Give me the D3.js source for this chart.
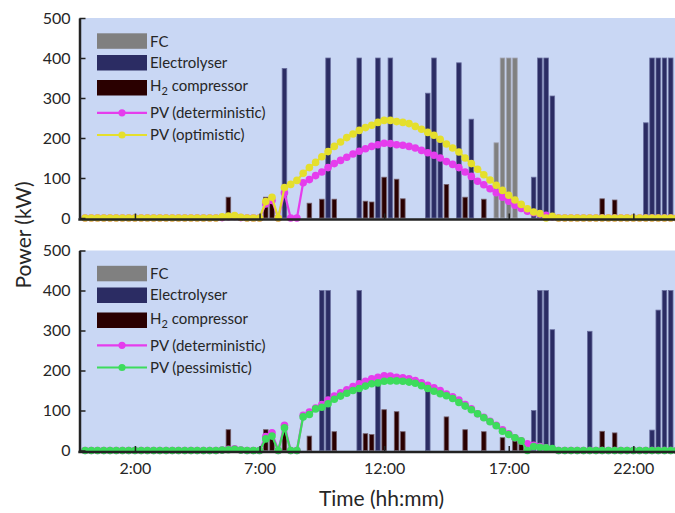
<!DOCTYPE html>
<html>
<head>
<meta charset="utf-8">
<script src="https://cdn.jsdelivr.net/npm/d3@7/dist/d3.min.js"></script>
<style>
  html, body { margin: 0; padding: 0; background: #fff; }
  svg { display: block; font-family: Lato, "Open Sans", sans-serif; }
</style>
</head>
<body>
<svg id="chart" width="675" height="513"></svg>
<script>
// PV output, one value per 15-minute slot (00:00 ... 23:45), kW
const pvDeterministic = [
  0,0,0,0,0,0,0,0,0,0,0,0,0,0,0,0,0,0,0,0,0,0,
  1,3,4,1,0,0,0,
  35,44,0,63,0,0,
  88,96,106,115,126,136,144,152,160,167,173,179,183,187,186,183,182,179,175,169,
  163,157,150,141,134,126,115,104,92,83,73,63,52,42,32,24,17,13,10,7,3,
  0,0,0,0,0,0,0,0,0,0,0,0,0,0,0,0,0,0,0,0
];
const pvOptimistic = [
  0,0,0,0,0,0,0,0,0,0,0,0,0,0,0,0,0,0,0,0,0,0,
  3,5,6,2,0,0,0,
  41,52,0,76,84,94,
  112,126,139,153,166,179,190,201,210,219,226,232,239,244,244,241,239,236,229,222,
  214,207,197,185,175,165,150,136,122,108,95,82,69,57,45,34,23,15,11,0,4,
  0,0,0,0,0,0,0,0,0,0,0,0,0,0,0,0,0,0,0,0
];
const pvPessimistic = [
  0,0,0,0,0,0,0,0,0,0,0,0,0,0,0,0,0,0,0,0,0,0,
  1,2,3,1,0,0,0,
  29,36,0,57,0,0,
  84,90,104,108,117,128,136,143,150,155,161,167,169,173,174,174,173,171,168,162,
  155,148,142,137,130,120,111,102,92,82,72,62,48,40,32,24,0,10,8,7,5,
  0,0,0,0,0,0,0,0,0,0,0,0,0,0,0,0,0,0,0,0
];

// Optimistic scenario: unit dispatch (start of slot, kW)
const optFcTimes = ["16:30","16:45","17:00","17:15"];
const optFcValues = [188, 400, 400, 400];
const optElectrolyserTimes = ["08:00","09:45","11:00","11:45","12:15","13:45","14:00","14:15","15:00","15:30",
  "18:00","18:15","18:30","18:45","22:30","22:45","23:00","23:15","23:30"];
const optElectrolyserValues = [374, 400, 400, 400, 400, 312, 400, 190, 388, 247,
  102, 400, 400, 305, 238, 400, 400, 400, 400];
const optCompressorTimes = ["05:45","07:15","07:30","09:00","09:30","10:00","11:15","11:30","12:00","12:30",
  "12:45","14:30","15:15","16:00","20:45","21:15"];
const optCompressorValues = [52, 52, 37, 37, 47, 47, 42, 40, 102, 97,
  48, 84, 52, 47, 48, 45];

// Pessimistic scenario: unit dispatch (start of slot, kW)
const pesFcTimes = [];
const pesFcValues = [];
const pesElectrolyserTimes = ["09:30","09:45","11:00","11:45","13:45","18:00","18:15","18:30","18:45","20:15",
  "22:45","23:00","23:15","23:30"];
const pesElectrolyserValues = [400, 400, 400, 165, 155, 100, 400, 400, 302, 298,
  51, 351, 400, 400];
const pesCompressorTimes = ["05:45","07:15","07:30","08:00","09:00","10:00","11:15","11:30","12:00","12:30",
  "12:45","14:30","15:15","16:00","16:45","17:15","17:30","20:45","21:15"];
const pesCompressorValues = [52, 52, 48, 55, 36, 47, 42, 40, 102, 97,
  47, 84, 52, 47, 32, 25, 17, 48, 44];

const yTicks = [0, 100, 200, 300, 400, 500];
const xTickHours = [2, 7, 12, 17, 22];
const xTickLabels = ["2:00", "7:00", "12:00", "17:00", "22:00"];

const colors = {
  bg: "#c9d7f4",
  fc: "#808080",
  electrolyser: "#2b2c63",
  compressor: "#2a0000",
  deterministic: "#e53ded",
  optimistic: "#e5df2c",
  pessimistic: "#3ddc5c",
  axis: "#222222",
  text: "#262626"
};

const svg = d3.select("#chart");
const plotLeft = 79.5;
const hourToX = d3.scaleLinear().domain([0, 24]).range([85.1, 85.1 + 24 * 24.92]);
const xRight = 690;

function parseHour(s) {
  const [h, m] = s.split(":").map(Number);
  return h + m / 60;
}

function drawPanel(cfg) {
  const y = d3.scaleLinear().domain([0, 500]).range([cfg.bottom, cfg.top]);
  const g = svg.append("g");

  g.append("rect")
    .attr("x", plotLeft).attr("y", y(500))
    .attr("width", xRight - plotLeft).attr("height", y(0) - y(500) + 1)
    .attr("fill", colors.bg);

  const barW = 4.6;
  function bars(times, values, fill, edge) {
    g.append("g").selectAll("rect")
      .data(times.map((t, i) => ({ t: parseHour(t), v: values[i] })))
      .join("rect")
      .attr("x", d => hourToX(d.t) - barW / 2)
      .attr("y", d => y(d.v))
      .attr("width", barW)
      .attr("height", d => y(0) - y(d.v))
      .attr("fill", fill)
      .attr("stroke", edge)
      .attr("stroke-width", 0.8);
  }
  bars(cfg.fcTimes, cfg.fcValues, colors.fc, "#a4a6b4");
  bars(cfg.elTimes, cfg.elValues, colors.electrolyser, "#6a6f9f");
  bars(cfg.coTimes, cfg.coValues, colors.compressor, "#75606c");

  const line = d3.line()
    .x((d, i) => hourToX(i / 4))
    .y(d => y(d));

  function series(values, color) {
    g.append("path")
      .datum(values)
      .attr("d", line)
      .attr("fill", "none")
      .attr("stroke", color)
      .attr("stroke-width", 2.2)
      .attr("stroke-linejoin", "round");
    g.append("g").selectAll("circle")
      .data(values)
      .join("circle")
      .attr("cx", (d, i) => hourToX(i / 4))
      .attr("cy", d => y(d))
      .attr("r", 3.8)
      .attr("fill", color);
  }
  series(pvDeterministic, colors.deterministic);
  series(cfg.scenario, cfg.scenarioColor);

  // Axes: inward ticks
  const yAxis = d3.axisLeft(y).tickValues(yTicks).tickSize(-6).tickSizeOuter(0).tickPadding(9);
  const ya = g.append("g").attr("transform", `translate(${plotLeft},0)`).call(yAxis);
  ya.select(".domain").attr("stroke", colors.axis).attr("stroke-width", 2.5);
  ya.selectAll(".tick line").attr("stroke", colors.axis).attr("stroke-width", 1.5);
  ya.selectAll(".tick text").attr("font-size", 16).attr("fill", colors.text)
    .attr("font-family", "Lato, sans-serif");

  const xAxis = d3.axisBottom(hourToX)
    .tickValues(xTickHours)
    .tickSize(-6).tickSizeOuter(0).tickPadding(11)
    .tickFormat((d, i) => cfg.showXLabels ? xTickLabels[i] : "");
  const xa = g.append("g").attr("transform", `translate(0,${y(0) + 1.5})`).call(xAxis);
  xa.select(".domain").attr("d", `M${plotLeft - 1.2},0H${xRight}`)
    .attr("stroke", colors.axis).attr("stroke-width", 2.5);
  xa.selectAll(".tick line").attr("stroke", colors.axis).attr("stroke-width", 1.5);
  xa.selectAll(".tick text").attr("font-size", 16).attr("fill", colors.text)
    .attr("font-family", "Lato, sans-serif");

  // Legend
  const lg = g.append("g").attr("transform", `translate(97,${cfg.top})`);
  const sw = 50;
  [
    { y: 15.3, c: colors.fc },
    { y: 37, c: colors.electrolyser },
    { y: 62, c: colors.compressor }
  ].forEach(r => {
    lg.append("rect").attr("x", 0).attr("y", r.y).attr("width", sw).attr("height", 15.5).attr("fill", r.c);
  });
  const tx = 53;
  lg.append("text").attr("x", tx).attr("y", 28.7).text("FC");
  lg.append("text").attr("x", tx).attr("y", 49.7).text("Electrolyser");
  const h2 = lg.append("text").attr("x", tx).attr("y", 73);
  h2.append("tspan").text("H");
  h2.append("tspan").attr("font-size", 11).attr("dy", 4).text("2");
  h2.append("tspan").attr("dy", -4).text(" compressor");

  [
    { y: 94.8, c: colors.deterministic, label: "PV (deterministic)", base: 100.3 },
    { y: 117, c: cfg.scenarioColor, label: cfg.scenarioLabel, base: 122 }
  ].forEach(l => {
    lg.append("line").attr("x1", 0).attr("x2", sw).attr("y1", l.y).attr("y2", l.y)
      .attr("stroke", l.c).attr("stroke-width", 2.2);
    lg.append("circle").attr("cx", sw / 2).attr("cy", l.y).attr("r", 3.6).attr("fill", l.c);
    lg.append("text").attr("x", tx).attr("y", l.base).text(l.label);
  });
  lg.selectAll("text").attr("font-size", 15).attr("fill", colors.text);
}

drawPanel({
  top: 18, bottom: 218,
  fcTimes: optFcTimes, fcValues: optFcValues,
  elTimes: optElectrolyserTimes, elValues: optElectrolyserValues,
  coTimes: optCompressorTimes, coValues: optCompressorValues,
  scenario: pvOptimistic, scenarioColor: colors.optimistic, scenarioLabel: "PV (optimistic)",
  showXLabels: false
});
drawPanel({
  top: 250.5, bottom: 450.5,
  fcTimes: pesFcTimes, fcValues: pesFcValues,
  elTimes: pesElectrolyserTimes, elValues: pesElectrolyserValues,
  coTimes: pesCompressorTimes, coValues: pesCompressorValues,
  scenario: pvPessimistic, scenarioColor: colors.pessimistic, scenarioLabel: "PV (pessimistic)",
  showXLabels: true
});

// Axis titles
svg.append("text")
  .attr("transform", "translate(31,235) rotate(-90)")
  .attr("text-anchor", "middle")
  .attr("font-size", 21)
  .attr("fill", colors.text)
  .text("Power (kW)");
svg.append("text")
  .attr("x", 381.5).attr("y", 506)
  .attr("text-anchor", "middle")
  .attr("font-size", 21)
  .attr("fill", colors.text)
  .text("Time (hh:mm)");
</script>
</body>
</html>
